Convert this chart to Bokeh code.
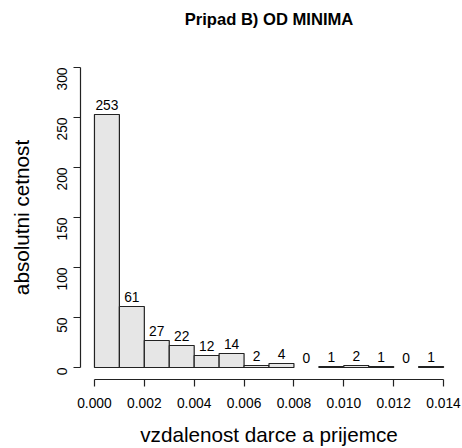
import math
from bokeh.plotting import figure
from bokeh.models import (FixedTicker, PrintfTickFormatter, ColumnDataSource,
                          Range1d, LinearAxis)
from bokeh.embed import file_html
from bokeh.resources import INLINE

# histogram of donor-recipient distances, bin width 0.001
bin_left = [0.000, 0.001, 0.002, 0.003, 0.004, 0.005, 0.006,
            0.007, 0.008, 0.009, 0.010, 0.011, 0.012, 0.013]
bin_right = [0.001, 0.002, 0.003, 0.004, 0.005, 0.006, 0.007,
             0.008, 0.009, 0.010, 0.011, 0.012, 0.013, 0.014]
counts = [253, 61, 27, 22, 12, 14, 2, 4, 0, 1, 2, 1, 0, 1]
x_ticks = [0.000, 0.002, 0.004, 0.006, 0.008, 0.010, 0.012, 0.014]
y_ticks = [0, 50, 100, 150, 200, 250, 300]

FONT = "Liberation Sans"

p = figure(width=462, height=448, output_backend="svg", toolbar_location=None,
           min_border_left=80, min_border_right=5, min_border_top=55,
           min_border_bottom=69,
           x_range=Range1d(-0.00056, 0.01456), y_range=Range1d(-12, 312))

p.outline_line_color = None
p.xgrid.visible = False
p.ygrid.visible = False
p.background_fill_color = "white"
p.border_fill_color = "white"

# bars (empty bins are labelled but have no visible rectangle)
bars = ColumnDataSource(dict(
    left=[l for l, c in zip(bin_left, counts) if c > 0],
    right=[r for r, c in zip(bin_right, counts) if c > 0],
    top=[c for c in counts if c > 0],
))
p.quad(left="left", right="right", bottom=0, top="top", source=bars,
       fill_color="#e6e6e6", line_color="#222222", line_width=1.2)

# count labels above each bin
labels = ColumnDataSource(dict(
    x=[(l + r) / 2 for l, r in zip(bin_left, bin_right)],
    y=counts,
    t=[str(c) for c in counts],
))
p.text(x="x", y="y", text="t", source=labels, text_align="center",
       text_baseline="bottom", y_offset=-5,
       text_font={"value": FONT}, text_font_size={"value": "13.8px"},
       text_color="#000000")

for ax in (p.xaxis[0], p.yaxis[0]):
    ax.axis_line_color = "#222222"
    ax.major_tick_line_color = "#222222"
    ax.axis_line_width = 1.2
    ax.major_tick_line_width = 1.2
    ax.major_tick_out = 7
    ax.major_tick_in = 0
    ax.minor_tick_out = 0
    ax.minor_tick_in = 0
    ax.major_label_text_font = FONT
    ax.major_label_text_font_size = "13.8px"
    ax.major_label_text_color = "#000000"
    ax.axis_label_text_font = FONT
    ax.axis_label_text_font_size = "20.7px"
    ax.axis_label_text_font_style = "normal"
    ax.axis_label_text_color = "#000000"

xa = p.xaxis[0]
xa.ticker = FixedTicker(ticks=x_ticks)
xa.formatter = PrintfTickFormatter(format="%.3f")
xa.bounds = (0.0, 0.014)
xa.major_label_standoff = 11
xa.axis_label = "vzdalenost darce a prijemce"
xa.axis_label_standoff = 12

ya = p.yaxis[0]
ya.ticker = FixedTicker(ticks=y_ticks)
ya.bounds = (0, 300)
ya.major_label_orientation = math.pi / 2
ya.major_label_standoff = 12
ya.axis_label = "absolutni cetnost"
ya.axis_label_standoff = 16

# main title carried by a bare axis along the top edge
top = LinearAxis(ticker=FixedTicker(ticks=[]), axis_line_color=None,
                 major_tick_line_color=None, minor_tick_line_color=None,
                 major_label_text_font_size="0px",
                 axis_label="Pripad B) OD MINIMA",
                 axis_label_text_font=FONT, axis_label_text_font_size="16.6px",
                 axis_label_text_font_style="bold",
                 axis_label_text_color="#000000",
                 axis_label_standoff=27)
p.add_layout(top, "above")

open("out.html", "w").write(file_html(p, INLINE))
